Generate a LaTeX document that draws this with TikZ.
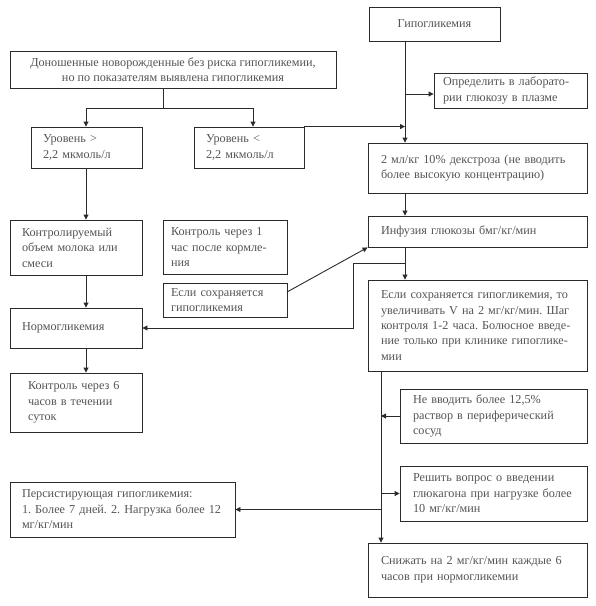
\documentclass[tikz,border=0pt]{standalone}
\usepackage{fontspec}
\setmainfont{Liberation Serif}
\usetikzlibrary{arrows.meta}
\definecolor{linec}{HTML}{2B2B2B}
\definecolor{txtc}{HTML}{555555}
\begin{document}
\frenchspacing
\begin{tikzpicture}[x=1pt,y=-1pt,
  box/.style={draw=linec, line width=0.9pt, text=txtc, inner ysep=0pt, align=left,
    font=\fontsize{12.2pt}{15.5pt}\selectfont},
  arr/.style={draw=linec, line width=0.9pt, -{Triangle[length=5pt,width=5pt]}},
  ln/.style={draw=linec, line width=0.9pt}]
\useasboundingbox (0,0) rectangle (596,606);
\fill[white] (0,0) rectangle (596,606);

\node[box, align=center, minimum width=131pt, minimum height=34pt, inner xsep=0pt] (hypo) at (434.5,24) {Гипогликемия};
\node[box, align=center, minimum width=326pt, minimum height=37pt, inner xsep=0pt] (don) at (173,69.5) {Доношенные новорожденные без риска гипогликемии,\\но по показателям выявлена гипогликемия};
\node[box, inner xsep=9pt, text width=135pt, minimum height=35pt] (opr) at (510.5,90.5) {Определить в лаборато-\\рии глюкозу в плазме};
\node[box, inner xsep=12pt, text width=87pt, minimum height=41pt] (ur1) at (86.5,147.5) {Уровень >\\2,2 мкмоль/л};
\node[box, inner xsep=12pt, text width=86pt, minimum height=41pt] (ur2) at (249,147.5) {Уровень <\\2,2 мкмоль/л};
\node[box, inner xsep=13pt, text width=193pt, minimum height=50pt] (dex) at (477.5,168) {2 мл/кг 10\% декстроза (не вводить\\более высокую концентрацию)};
\node[box, inner xsep=12pt, text width=108pt, minimum height=55pt] (kontr) at (76,247.5) {Контролируемый\\объем молока или\\смеси};
\node[box, inner xsep=8pt, text width=108pt, minimum height=54pt] (k1) at (225,247) {Контроль через 1\\час после кормле-\\ния};
\node[box, inner xsep=8pt, text width=108pt, minimum height=34pt] (esli) at (225,300) {Если сохраняется\\гипогликемия};
\node[box, inner xsep=13pt, text width=193pt, minimum height=31pt] (inf) at (477.5,231.5) {Инфузия глюкозы бмг/кг/мин};
\node[box, inner xsep=12pt, text width=108pt, minimum height=40pt] (norm) at (76,328) {Нормогликемия};
\node[box, inner xsep=13pt, text width=193pt, minimum height=91pt] (esli2) at (477.5,325.5) {Если сохраняется гипогликемия, то\\увеличивать V на 2 мг/кг/мин. Шаг\\контроля 1-2 часа. Болюсное введе-\\ние только при клинике гипоглике-\\мии};
\node[box, inner xsep=18pt, text width=96pt, minimum height=59pt] (k6) at (76,402.5) {Контроль через 6\\часов в течении\\суток};
\node[box, inner xsep=13pt, text width=161pt, minimum height=54pt] (ne) at (493.5,416) {Не вводить более 12,5\%\\раствор в периферический\\сосуд};
\node[box, inner xsep=13pt, text width=161pt, minimum height=55pt] (resh) at (493.5,493.5) {Решить вопрос о введении\\глюкагона при нагрузке более\\10 мг/кг/мин};
\node[box, inner xsep=12pt, text width=201pt, minimum height=55pt] (pers) at (122.5,509.5) {Персистирующая гипогликемия:\\1. Более 7 дней. 2. Нагрузка более 12\\мг/кг/мин};
\node[box, inner xsep=13pt, text width=193pt, minimum height=54pt] (snizh) at (477.5,570) {Снижать на 2 мг/кг/мин каждые 6\\часов при нормогликемии};

% guide coordinates
\coordinate (vx) at (405,0);
\coordinate (lx) at (86,0);
\coordinate (rx) at (381,0);
\coordinate (dsplit) at (163,108);
\coordinate (l1) at (86,108);
\coordinate (l2) at (253,108);
\coordinate (jopr) at (405,94);
\coordinate (la) at (405,263);
\coordinate (lb) at (353,263);
\coordinate (lc) at (353,328);
\coordinate (jne) at (381,416);
\coordinate (jresh) at (381,493.5);
\coordinate (jpers) at (381,509.5);
\coordinate (eslistart) at (287,292);

\draw[arr] (hypo.south -| vx) -- (dex.north -| vx);
\draw[arr] (jopr) -- (jopr -| opr.west);
\draw[ln] (don.south -| dsplit) -- (dsplit);
\draw[arr] (dsplit) -- (l1) -- (ur1.north -| l1);
\draw[arr] (dsplit) -- (l2) -- (ur2.north -| l2);
\draw[arr] (ur2.north east) -- (ur2.north east -| vx);
\draw[arr] (ur1.south -| lx) -- (kontr.north -| lx);
\draw[arr] (kontr.south -| lx) -- (norm.north -| lx);
\draw[arr] (norm.south -| lx) -- (k6.north -| lx);
\draw[arr] (dex.south -| vx) -- (inf.north -| vx);
\draw[arr] (inf.south -| vx) -- (esli2.north -| vx);
\draw[arr] (eslistart) -- (inf.south west);
\draw[arr] (la) -- (lb) -- (lc) -- (norm.east);
\draw[arr] (esli2.south -| rx) -- (snizh.north -| rx);
\draw[arr] (ne.west) -- (jne);
\draw[arr] (jresh) -- (resh.west);
\draw[arr] (jpers) -- (pers.east);
\end{tikzpicture}
\end{document}
